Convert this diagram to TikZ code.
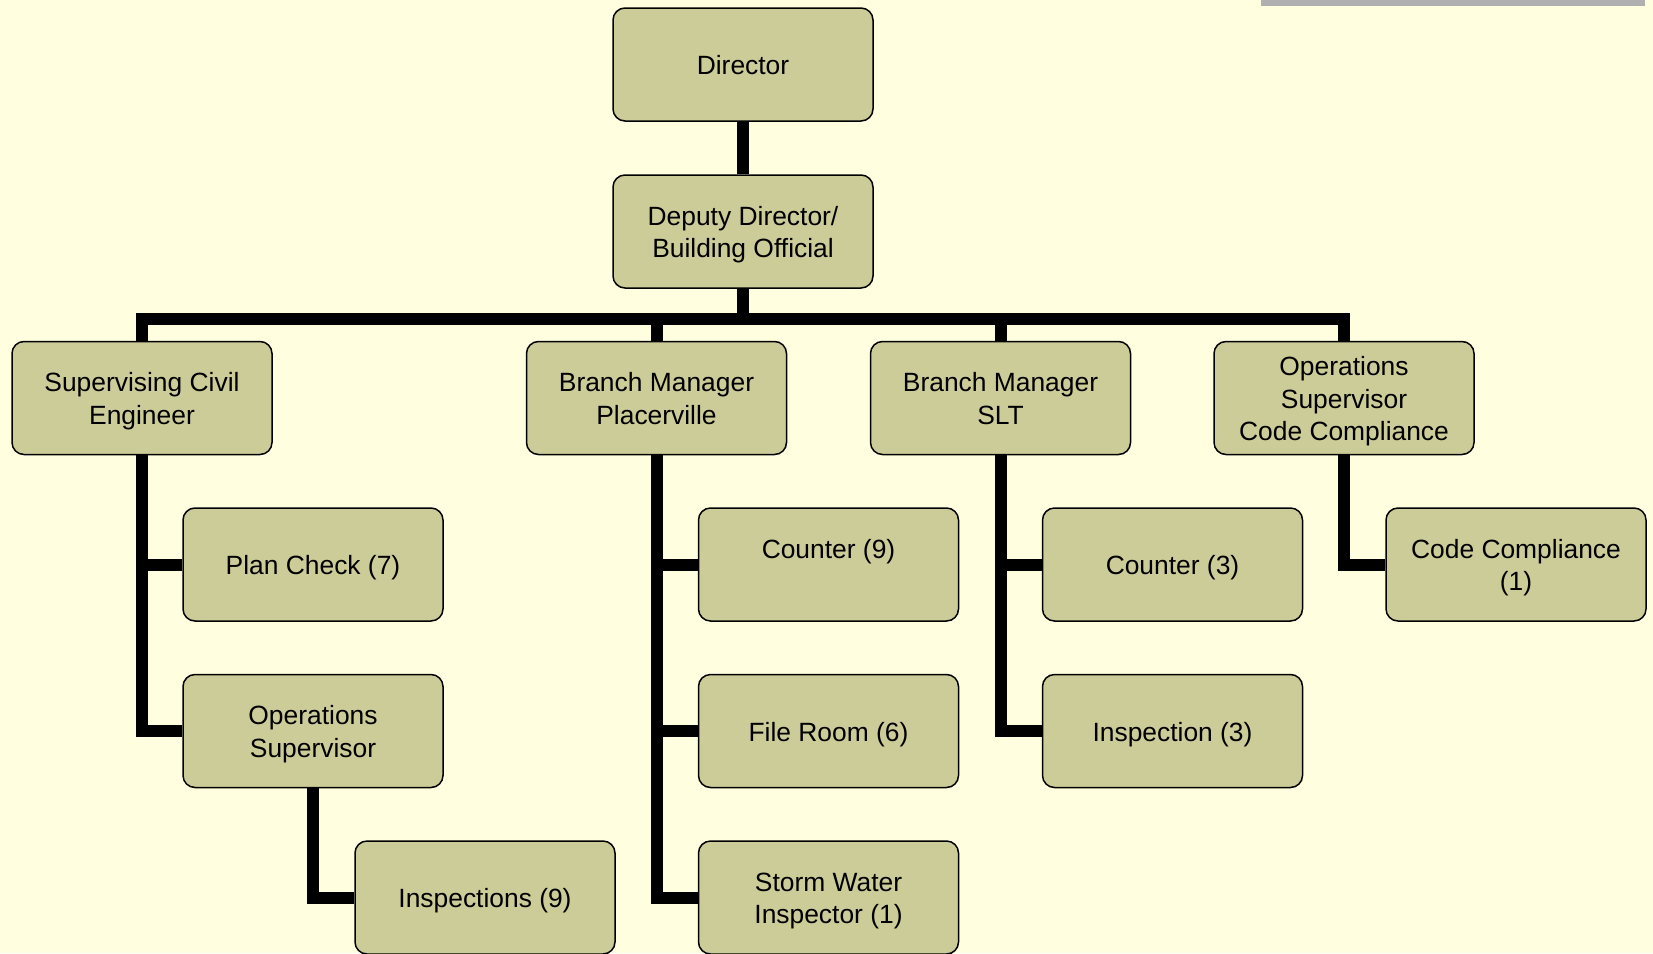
\documentclass[tikz,border=0pt]{standalone}
\usepackage{fontspec}
\setmainfont{Liberation Sans}
\usetikzlibrary{calc}
\definecolor{paper}{HTML}{FFFFE0}
\definecolor{boxfill}{HTML}{CCCC99}
\definecolor{barline}{HTML}{B0B0B0}

\begin{document}
\begin{tikzpicture}[x=0.5pt,y=-0.5pt,
    box/.style={draw, fill=boxfill, rounded corners=6pt, line width=0.75pt,
            minimum width=130pt, minimum height=56.5pt, align=center, inner sep=2pt,
            font=\fontsize{13.2}{16.3}\selectfont, text height=12.4pt, text depth=2.3pt},
    two/.style={text height=28.7pt},
    three/.style={text height=45pt},
    link/.style={line width=6pt}]

  \useasboundingbox (0,0) rectangle (1653,953);
  \fill[paper] (0,0) rectangle (1653,953);
  \fill[barline] (1261,0) rectangle (1645,6);

  % top of the chart
  \node[box] (dir) at (743,64.5) {Director};
  \node[box,two] (dep) at (743,231.5) {Deputy Director/\\Building Official};

  % first row
  \node[box,two] (sce) at (142,398) {Supervising Civil\\Engineer};
  \node[box,two] (bmp) at (656.5,398) {Branch Manager\\Placerville};
  \node[box,two] (slt) at (1000.5,398) {Branch Manager\\SLT};
  \node[box,three] (osc) at (1344,398) {Operations\\Supervisor\\Code Compliance};

  % lower rows
  \node[box] (plan) at (313,564.5) {Plan Check (7)};
  \node[box,two] (ops) at (313,731) {Operations\\Supervisor};
  \node[box] (insp) at (485,897.5) {Inspections (9)};
  \node[box,two] (cnta) at (828.5,564.5) {Counter (9)\\ ~};
  \node[box] (file) at (828.5,731) {File Room (6)};
  \node[box,two] (storm) at (828.5,897.5) {Storm Water\\Inspector (1)};
  \node[box] (cntb) at (1172.5,564.5) {Counter (3)};
  \node[box] (insb) at (1172.5,731) {Inspection (3)};
  \node[box,two] (code) at (1516,564.5) {Code Compliance\\(1)};

  \coordinate (bar) at (743,319);

  \draw[link] (dir) -- (dep);
  \draw[link] (dep.south) -- (dep.south |- bar);
  \draw[link] (sce.north) |- (osc.north |- bar) -- (osc.north);
  \draw[link] (bmp.north) -- (bmp.north |- bar);
  \draw[link] (slt.north) -- (slt.north |- bar);

  \draw[link] (sce.south) |- (plan.west);
  \draw[link] (sce.south) |- (ops.west);
  \draw[link] (ops.south) |- (insp.west);
  \draw[link] (bmp.south) |- (cnta.west);
  \draw[link] (bmp.south) |- (file.west);
  \draw[link] (bmp.south) |- (storm.west);
  \draw[link] (slt.south) |- (cntb.west);
  \draw[link] (slt.south) |- (insb.west);
  \draw[link] (osc.south) |- (code.west);
\end{tikzpicture}
\end{document}
